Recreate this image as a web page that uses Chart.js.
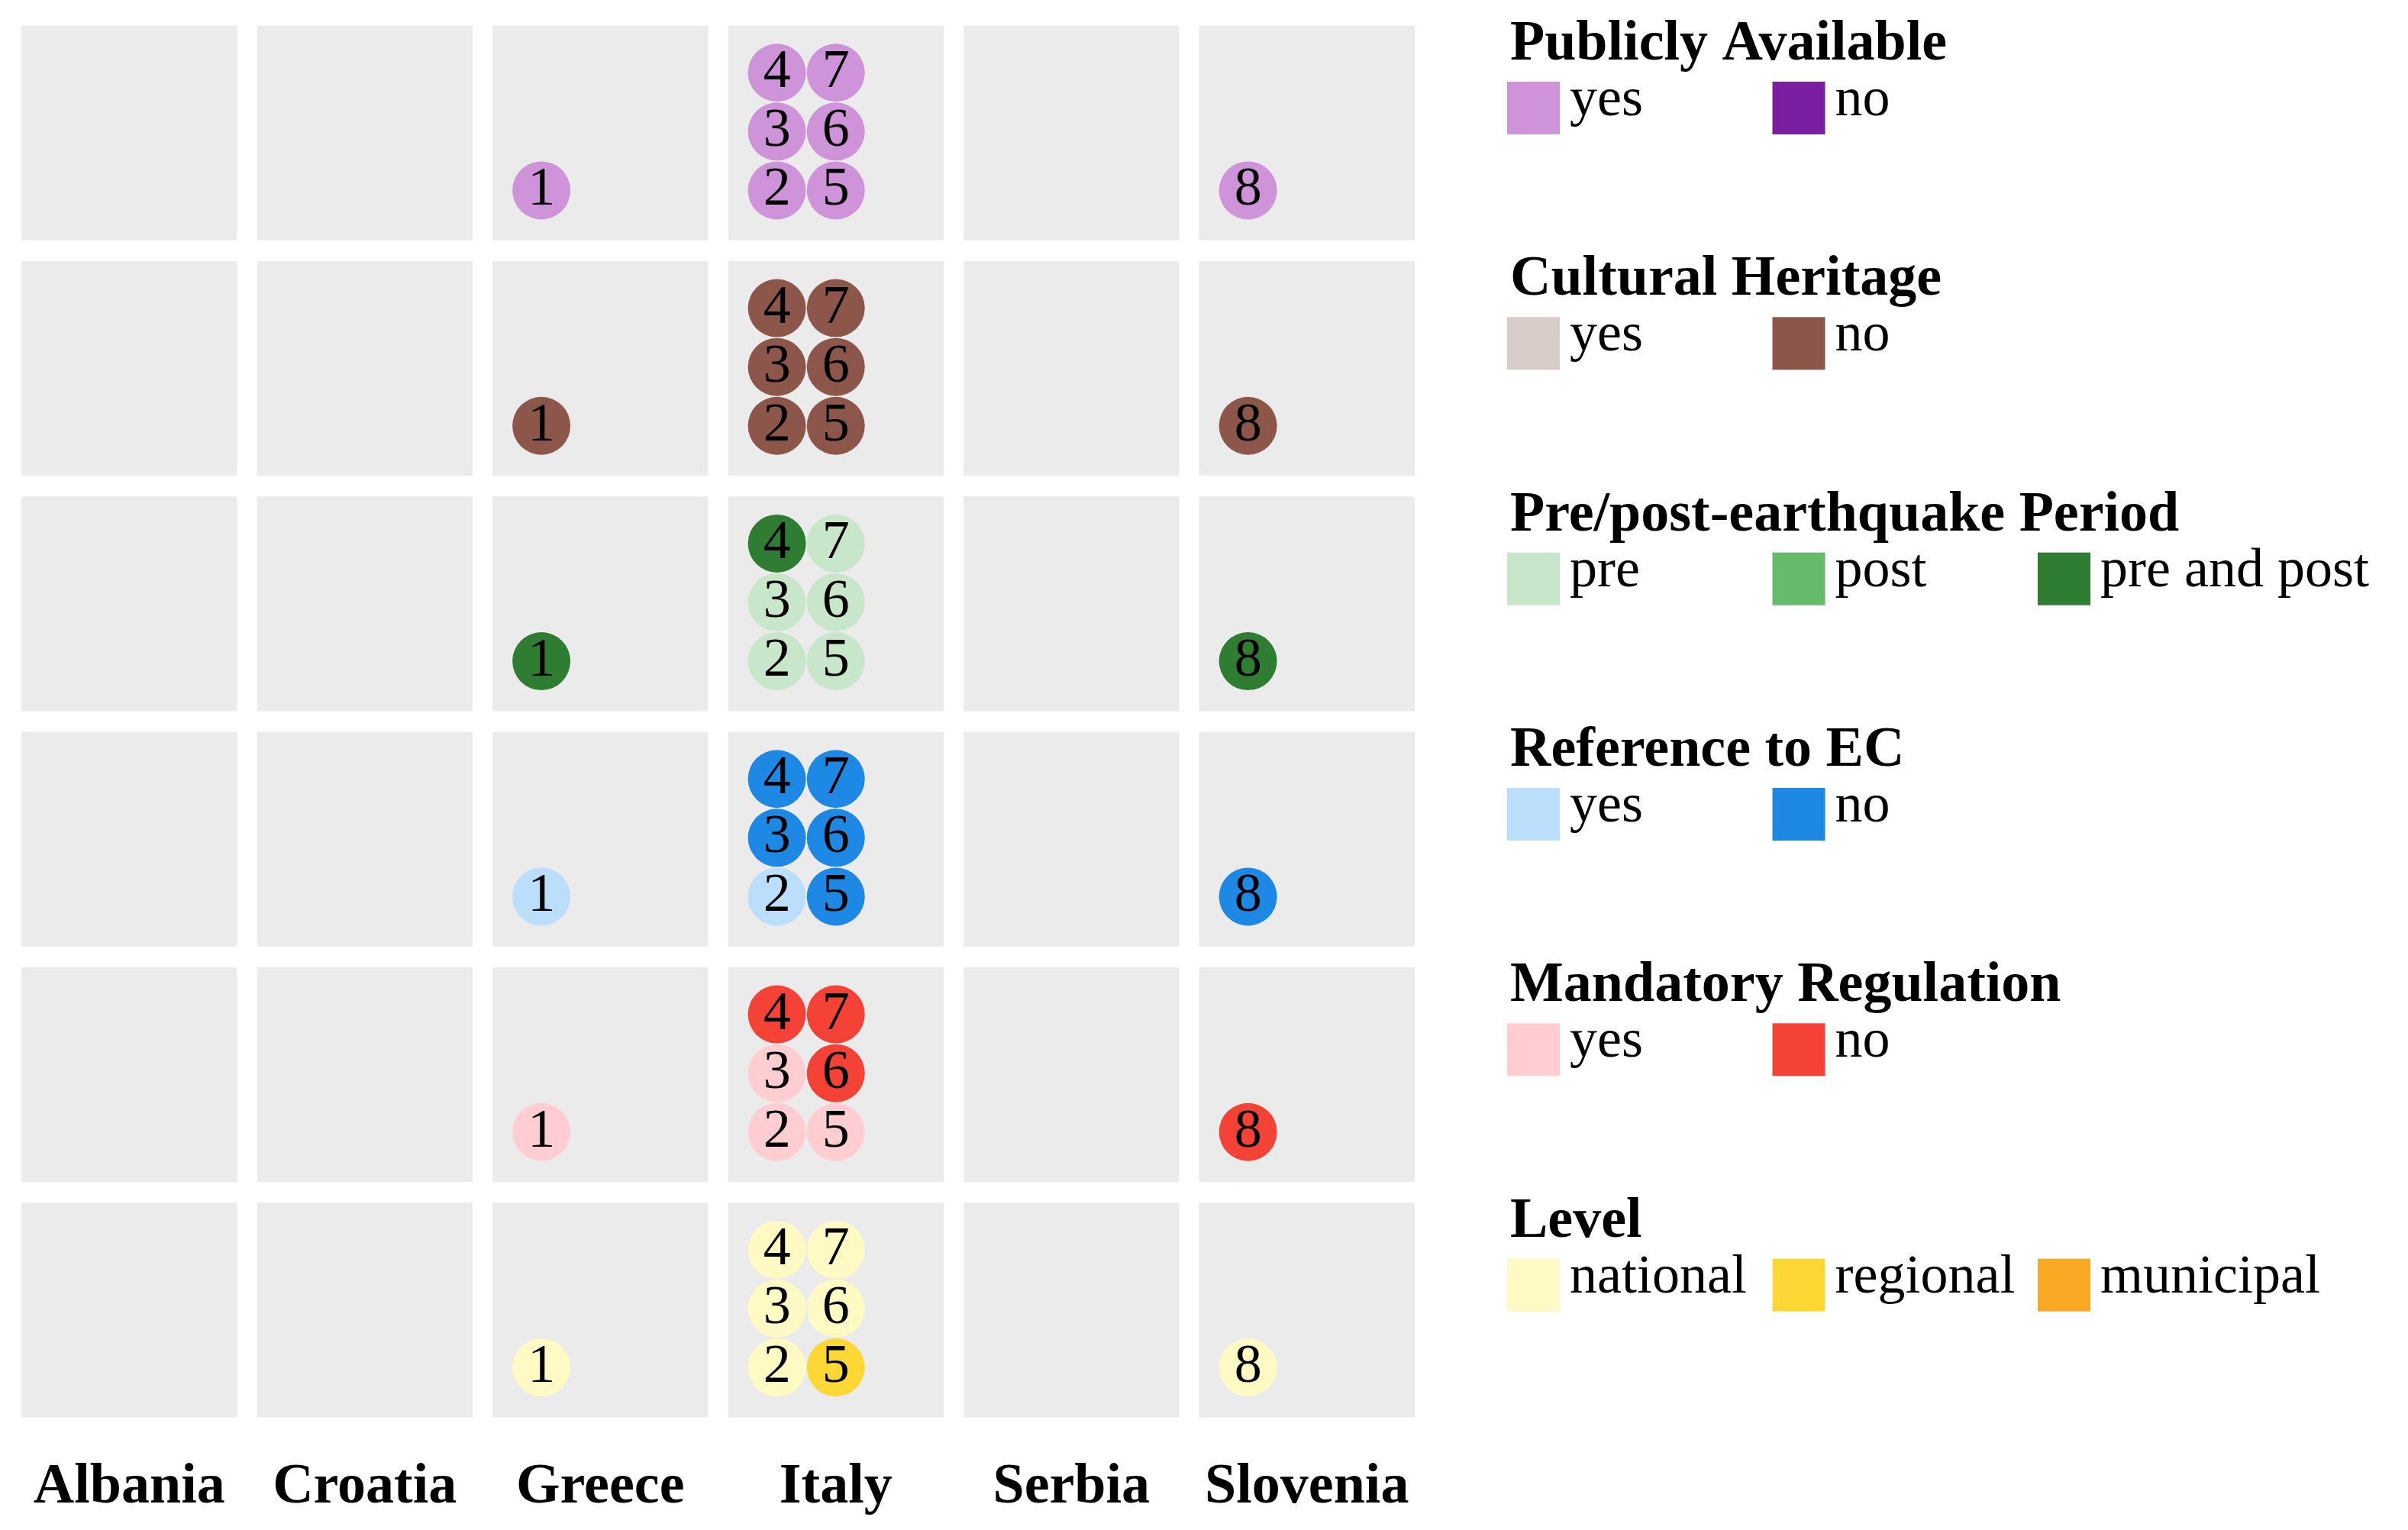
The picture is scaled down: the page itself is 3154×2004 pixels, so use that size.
<!DOCTYPE html>
<html>
<head>
<meta charset="utf-8">
<script src="https://cdn.jsdelivr.net/npm/chart.js"></script>
<style>
    body { margin: 0; background: #ffffff; }
    #wrap { width: 3154px; height: 2004px; position: relative; }
</style>
</head>
<body>
<div id="wrap"><canvas id="ChartCanvas"></canvas></div>
<script>
// countries on the x axis, attributes are the rows (top to bottom)
var countries = ["Albania", "Croatia", "Greece", "Italy", "Serbia", "Slovenia"];
var attributes = ["Publicly Available", "Cultural Heritage", "Pre/post-earthquake Period",
    "Reference to EC", "Mandatory Regulation", "Level"];

// documents 1..8, which country they belong to and their slot inside the cell
var docIds = [1, 2, 3, 4, 5, 6, 7, 8];
var docCountry = ["Greece", "Italy", "Italy", "Italy", "Italy", "Italy", "Italy", "Slovenia"];
var docSlotCol = [0, 0, 0, 0, 1, 1, 1, 0];
var docSlotRow = [0, 0, 1, 2, 0, 1, 2, 0];

// value of every attribute for documents 1..8
var publiclyAvailable = ["yes", "yes", "yes", "yes", "yes", "yes", "yes", "yes"];
var culturalHeritage = ["no", "no", "no", "no", "no", "no", "no", "no"];
var earthquakePeriod = ["pre and post", "pre", "pre", "pre and post", "pre", "pre", "pre", "pre and post"];
var referenceToEC = ["yes", "yes", "no", "no", "no", "no", "no", "no"];
var mandatoryRegulation = ["yes", "yes", "yes", "no", "yes", "no", "no", "no"];
var level = ["national", "national", "national", "national", "regional", "national", "national", "national"];

var attributeValues = [publiclyAvailable, culturalHeritage, earthquakePeriod,
    referenceToEC, mandatoryRegulation, level];

// legend categories and colours per attribute
var legendLabels = [
    ["yes", "no"],
    ["yes", "no"],
    ["pre", "post", "pre and post"],
    ["yes", "no"],
    ["yes", "no"],
    ["national", "regional", "municipal"]
];
var legendColors = [
    ["#CE93D8", "#7B1FA2"],
    ["#D7CCC8", "#8C564B"],
    ["#C8E6C9", "#66BB6A", "#2E7D32"],
    ["#BBDEFB", "#1E88E5"],
    ["#FFCDD2", "#F44336"],
    ["#FFF9C4", "#FDD835", "#F9A825"]
];

var serif = '"Liberation Serif", "DejaVu Serif", serif';
var cellInset = 0.044;      // half the white gap between cells, in axis units
var slotStep = 0.25;        // distance between document circles, in axis units

function getCellData() {
    var cells = [];
    attributes.forEach(function (a, r) {
        countries.forEach(function (c, i) {
            cells.push({ x: i + 0.5, y: [r + cellInset, r + 1 - cellInset] });
        });
    });
    return cells;
}

function getDocDatasets() {
    return attributes.map(function (a, r) {
        var values = attributeValues[r];
        return {
            type: "scatter",
            label: a,
            order: 0,
            data: docIds.map(function (d, k) {
                var col = countries.indexOf(docCountry[k]);
                return {
                    x: col + slotStep + docSlotCol[k] * slotStep,
                    y: r + 0.744 - docSlotRow[k] * slotStep
                };
            }),
            backgroundColor: values.map(function (v) {
                return legendColors[r][legendLabels[r].indexOf(v)];
            }),
            pointRadius: 38,
            pointHoverRadius: 38,
            borderWidth: 0
        };
    });
}

// numbers inside the circles
var docNumbers = {
    id: "docNumbers",
    afterDatasetsDraw: function (chart) {
        var ctx = chart.ctx;
        ctx.save();
        ctx.font = "72px " + serif;
        ctx.fillStyle = "#000000";
        ctx.textAlign = "center";
        ctx.textBaseline = "alphabetic";
        chart.data.datasets.forEach(function (ds, di) {
            if (ds.type !== "scatter") return;
            chart.getDatasetMeta(di).data.forEach(function (el, k) {
                ctx.fillText(String(docIds[k]), el.x, el.y + 19);
            });
        });
        ctx.restore();
    }
};

// grouped legend on the right, one group per row
var groupLegend = {
    id: "groupLegend",
    afterDraw: function (chart) {
        var ctx = chart.ctx;
        var yScale = chart.scales.y;
        var x0 = chart.chartArea.right + 108;
        var colStep = 347.5;
        ctx.save();
        attributes.forEach(function (title, g) {
            var top = yScale.getPixelForValue(g);
            ctx.fillStyle = "#000000";
            ctx.textAlign = "left";
            ctx.textBaseline = "alphabetic";
            ctx.font = "bold 74px " + serif;
            ctx.fillText(title, x0 + 4, top + 58);
            ctx.font = "72px " + serif;
            legendLabels[g].forEach(function (lab, j) {
                var sx = x0 + j * colStep;
                ctx.fillStyle = legendColors[g][j];
                ctx.fillRect(sx, top + 87, 69, 69);
                ctx.fillStyle = "#000000";
                ctx.fillText(lab, sx + 82, top + 131);
            });
        });
        ctx.restore();
    }
};

var chartContext = document.getElementById("ChartCanvas").getContext("2d");

var config = {
    type: "bar",
    data: {
        datasets: [
            {
                type: "bar",
                label: "cells",
                order: 10,
                data: getCellData(),
                backgroundColor: "#EBEBEB",
                borderWidth: 0,
                grouped: false,
                categoryPercentage: 1,
                barPercentage: 0.915
            }
        ].concat(getDocDatasets())
    },
    options: {
        responsive: true,
        maintainAspectRatio: false,
        animation: false,
        events: [],
        layout: { autoPadding: false, padding: { left: 15, top: 20, right: 1288, bottom: 0 } },
        plugins: {
            legend: { display: false },
            tooltip: { enabled: false }
        },
        scales: {
            x: {
                type: "linear",
                min: 0,
                max: 6,
                offset: false,
                grid: { display: false },
                border: { display: false },
                afterBuildTicks: function (scale) {
                    scale.ticks = countries.map(function (c, i) { return { value: i + 0.5 }; });
                },
                afterFit: function (scale) {
                    scale.height = 134; // room for the country names only
                },
                ticks: {
                    autoSkip: false,
                    maxRotation: 0,
                    padding: 26,
                    color: "#000000",
                    font: { family: serif, size: 74, weight: "bold" },
                    callback: function (value, index) { return countries[index]; }
                }
            },
            y: {
                type: "linear",
                min: 0,
                max: 6,
                reverse: true,
                display: false
            }
        }
    },
    plugins: [docNumbers, groupLegend]
};

var createdChart = new Chart(chartContext, config);
</script>
</body>
</html>
